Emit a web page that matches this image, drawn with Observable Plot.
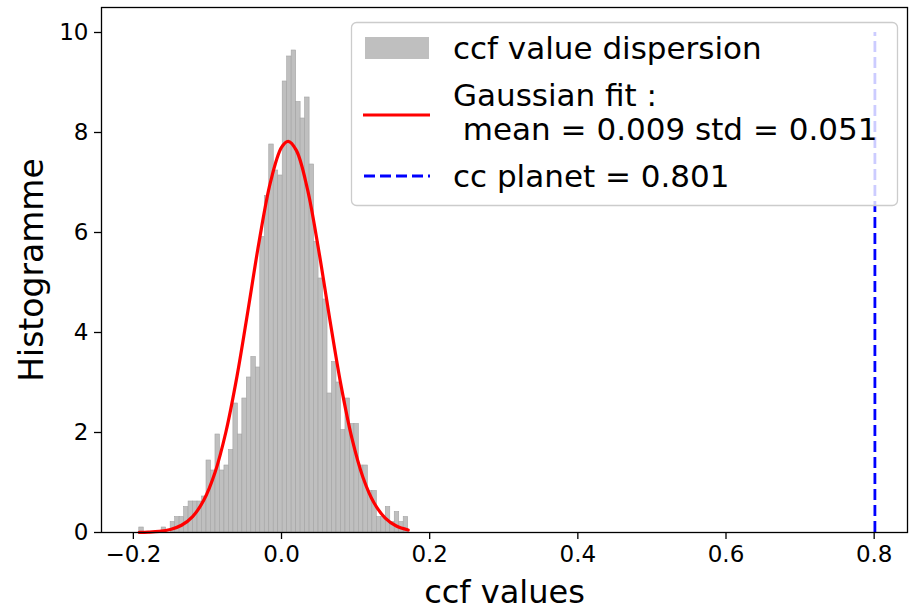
<!DOCTYPE html>
<html>
<head>
<meta charset="utf-8">
<script src="https://cdn.jsdelivr.net/npm/d3@7"></script>
<script src="https://cdn.jsdelivr.net/npm/@observablehq/plot@0.6"></script>
<style>
  html, body { margin: 0; padding: 0; background: #fff; }
  #wrap { position: relative; width: 910px; height: 613px; font-family: "DejaVu Sans", sans-serif; }
  #legend { position: absolute; left: 0; top: 0; pointer-events: none; }
</style>
</head>
<body>
<div id="wrap"></div>
<script>
// Histogram bin edges (61) and density heights (60)
const binEdges = [-0.192,-0.18595,-0.1799,-0.17385,-0.1678,-0.16175,-0.1557,-0.14965,-0.1436,-0.13755,
  -0.1315,-0.12545,-0.1194,-0.11335,-0.1073,-0.10125,-0.0952,-0.08915,-0.0831,-0.07705,
  -0.071,-0.06495,-0.0589,-0.05285,-0.0468,-0.04075,-0.0347,-0.02865,-0.0226,-0.01655,
  -0.0105,-0.00445,0.0016,0.00765,0.0137,0.01975,0.0258,0.03185,0.0379,0.04395,
  0.05,0.05605,0.0621,0.06815,0.0742,0.08025,0.0863,0.09235,0.0984,0.10445,
  0.1105,0.11655,0.1226,0.12865,0.1347,0.14075,0.1468,0.15285,0.1589,0.16495,0.171];
const density = [0.10,0,0,0,0,0.10,0,0.21,0.31,0.31,
  0.51,0.62,0.62,0.62,0.72,1.44,1.24,1.96,1.24,1.34,
  1.65,2.58,1.96,2.68,3.10,3.51,3.30,5.91,6.73,7.76,
  7.24,7.14,9.02,9.52,9.64,8.61,8.28,8.70,7.36,5.81,
  5.08,4.66,2.78,3.41,3.00,2.05,2.68,2.17,2.17,1.34,
  1.34,0.83,0.83,0.31,0.31,0.51,0.21,0.41,0.21,0.31];

// Gaussian fit curve
const fitX = [-0.192,-0.18,-0.165,-0.15,-0.135,-0.12,-0.105,-0.09,-0.075,-0.06,-0.045,-0.03,-0.015,0.0,0.009,0.02,0.035,0.05,0.065,0.08,0.095,0.11,0.125,0.14,0.155,0.171];
const fitY = [0.003,0.008,0.023,0.061,0.145,0.319,0.643,1.189,2.015,3.132,4.466,5.839,7.002,7.701,7.822,7.642,6.869,5.662,4.281,2.968,1.887,1.101,0.589,0.289,0.130,0.050];

// planet line
const ccPlanet = 0.801;
const ccLineTop = 10;

// ticks
const xTicks = [-0.2, 0.0, 0.2, 0.4, 0.6, 0.8];
const yTicks = [0, 2, 4, 6, 8, 10];

// labels
const xLabel = "ccf values";
const yLabel = "Histogramme";
const legendLabels = ["ccf value dispersion", "Gaussian fit :", " mean = 0.009 std = 0.051", "cc planet = 0.801"];

const bars = density.map((v, i) => ({x1: binEdges[i], x2: binEdges[i + 1], y: v})).filter(d => d.y > 0);
const fit = fitX.map((x, i) => ({x, y: fitY[i]}));

const chart = Plot.plot({
  width: 910,
  height: 613,
  marginLeft: 101,
  marginRight: 3,
  marginTop: 7,
  marginBottom: 81,
  style: {fontFamily: "DejaVu Sans", background: "white", color: "black"},
  x: {domain: [-0.243, 0.845], label: null},
  y: {domain: [0, 10.5], label: null},
  marks: [
    Plot.rect(bars, {x1: "x1", x2: "x2", y1: 0, y2: "y", fill: "#bfbfbf", stroke: "#a3a3a3", strokeWidth: 0.6}),
    Plot.line(fit, {x: "x", y: "y", stroke: "red", strokeWidth: 3.2, curve: "catmull-rom"}),
    Plot.ruleX([ccPlanet], {y1: 0, y2: ccLineTop, stroke: "blue", strokeWidth: 2.8, strokeDasharray: "11,5"}),
    Plot.frame({stroke: "black", strokeWidth: 1.3}),
    Plot.axisX(xTicks, {tickSize: 7, tickPadding: 6, fontSize: 23, strokeWidth: 1.3, tickFormat: d3.format(".1f"), label: null}),
    Plot.axisY(yTicks, {tickSize: 7, tickPadding: 6, fontSize: 23, strokeWidth: 1.3, tickFormat: d3.format("d"), label: null}),
    Plot.text([xLabel], {frameAnchor: "bottom", dy: 60, lineAnchor: "middle", textAnchor: "middle", fontSize: 32, fill: "black"}),
    Plot.text([yLabel], {frameAnchor: "left", dx: -69, rotate: -90, lineAnchor: "middle", textAnchor: "middle", fontSize: 33, fill: "black"})
  ]
});

const wrap = document.getElementById("wrap");
wrap.appendChild(chart);

// Legend overlay (semi-transparent box as in the original)
const ns = "http://www.w3.org/2000/svg";
const lg = document.createElementNS(ns, "svg");
lg.setAttribute("id", "legend");
lg.setAttribute("width", 910);
lg.setAttribute("height", 613);
function el(tag, attrs, text) {
  const e = document.createElementNS(ns, tag);
  for (const k in attrs) e.setAttribute(k, attrs[k]);
  if (text != null) e.textContent = text;
  lg.appendChild(e);
  return e;
}
el("rect", {x: 351.5, y: 22.5, width: 546, height: 183, rx: 5, fill: "white", "fill-opacity": 0.8, stroke: "#cccccc", "stroke-width": 1.3});
el("rect", {x: 365, y: 37, width: 64, height: 22, fill: "#bfbfbf"});
el("line", {x1: 363, x2: 430, y1: 115, y2: 115, stroke: "red", "stroke-width": 3.2});
el("line", {x1: 364, x2: 430, y1: 176, y2: 176, stroke: "blue", "stroke-width": 2.8, "stroke-dasharray": "11,5"});
const tStyle = {"font-family": "DejaVu Sans", "font-size": 31, fill: "black", style: "white-space:pre"};
el("text", {...tStyle, x: 453, y: 59}, legendLabels[0]);
el("text", {...tStyle, x: 453, y: 106}, legendLabels[1]);
el("text", {...tStyle, x: 453, y: 140}, legendLabels[2]);
el("text", {...tStyle, x: 453, y: 187}, legendLabels[3]);
wrap.appendChild(lg);
</script>
</body>
</html>
